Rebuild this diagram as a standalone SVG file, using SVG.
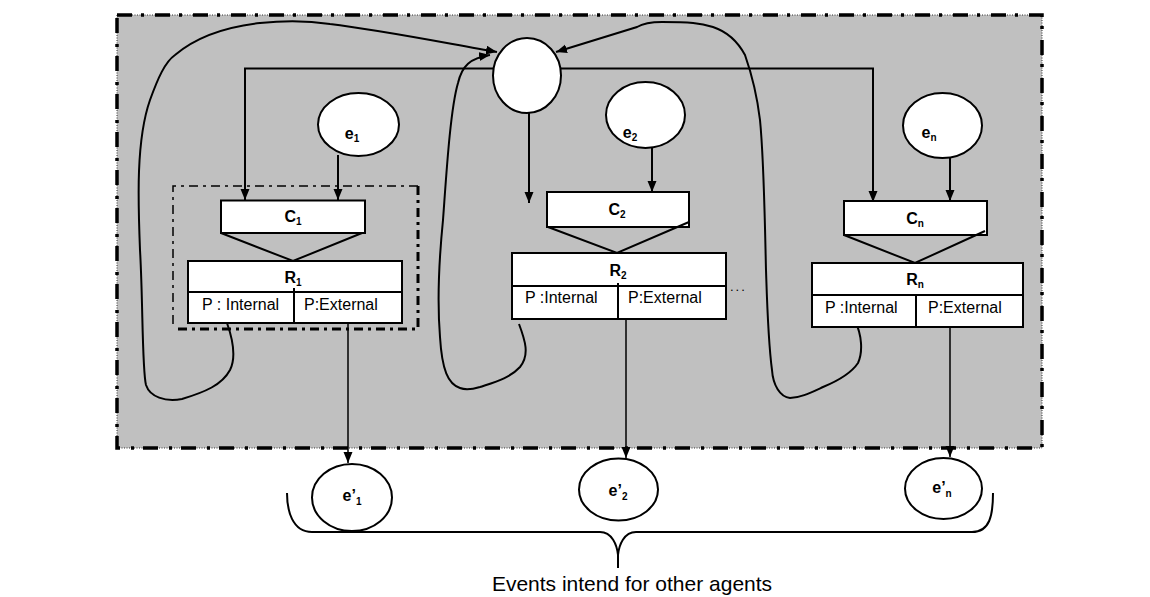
<svg xmlns="http://www.w3.org/2000/svg" width="1150" height="597" viewBox="0 0 1150 597">
<defs>
<marker id="ah" markerUnits="userSpaceOnUse" markerWidth="12" markerHeight="10" refX="11" refY="4.5" orient="auto">
<path d="M0,0 L11,4.5 L0,9 z" fill="#000"/>
</marker>
<style>
.ln{fill:none;stroke:#000;stroke-width:2}
.thin{fill:none;stroke:#000;stroke-width:1.5}
.box{fill:#fff;stroke:#000;stroke-width:2}
.lbl{font-family:"Liberation Sans",Arial,sans-serif;font-weight:bold;font-size:16px;fill:#000;text-anchor:middle}
.sub{font-size:10px}
.p{font-family:"Liberation Sans",Arial,sans-serif;font-size:16px;fill:#000}
</style>
</defs>
<rect width="1150" height="597" fill="#fff"/>
<g id="system">
<rect x="117" y="15" width="925" height="433" fill="#c0c0c0"/>
<rect x="117" y="15" width="925" height="433" fill="none" stroke="#333" stroke-width="1" stroke-dasharray="1,1.5"/>
<rect x="117" y="15" width="925" height="433" fill="none" stroke="#000" stroke-width="3.5" stroke-dasharray="15,9,3,11"/>
</g>
<g id="agent1-frame">
<path d="M418,186 H173 V329" fill="none" stroke="#000" stroke-width="1.5" stroke-dasharray="9,5,3,5"/>
<path d="M418,186 V329 H173" fill="none" stroke="#000" stroke-width="3" stroke-dasharray="9,5,3,5"/>
</g>
<g id="hub"><ellipse cx="527" cy="75.5" rx="34" ry="37.5" class="box"/></g>
<g id="connectors">
<path class="ln" d="M493,68.5 H245 V200" marker-end="url(#ah)"/>
<path class="ln" d="M561,68.5 H873 V202" marker-end="url(#ah)"/>
<path class="ln" d="M529,113 V203" marker-end="url(#ah)"/>
<path class="ln" d="M338,155 V200" marker-end="url(#ah)"/>
<path class="ln" d="M652,148 V192" marker-end="url(#ah)"/>
<path class="ln" d="M950,158 V201" marker-end="url(#ah)"/>
<path class="thin" d="M348,323 V463" marker-end="url(#ah)"/>
<path class="thin" d="M626,319 V458" marker-end="url(#ah)"/>
<path class="thin" d="M950,322 V457" marker-end="url(#ah)"/>
<path class="ln" d="M227,323 C233,340 236,358 230,370 C222,385 205,392 182,399 C165,402 150,397 146,385 C142,370 143,300 140,250 C138,200 136,140 150,100 C158,78 165,62 175,55 C195,38 225,27 260,23 C290,20 310,21 330,24 C380,30 440,42 497,52" marker-end="url(#ah)"/>
<path class="ln" d="M519,324 C525,340 530,355 520,367 C510,378 495,382 480,387 C470,390 465,390 460,388 C448,384 442,370 440,337 C437,300 440,250 443,220 C446,180 450,110 458,83 C462,66 470,58 490,55" marker-end="url(#ah)"/>
<path class="ln" d="M855,321 C862,335 863,352 858,363 C852,372 840,380 823,387 C810,393 800,398 790,398 C780,397 773,385 772,370 C768,340 767,300 766,270 C765,230 764,160 760,120 C757,95 752,75 745,55 C738,42 728,32 713,27 C700,23 690,22 662,22 C650,22 642,24 637,27 L556,52" marker-end="url(#ah)"/>
</g>
<g id="e1"><ellipse cx="358.5" cy="124.5" rx="40.5" ry="31.5" class="box"/><text x="352" y="139" class="lbl">e<tspan class="sub" dy="3">1</tspan></text></g>
<g id="e2"><ellipse cx="645.5" cy="115" rx="39.5" ry="33" class="box"/><text x="630" y="138" class="lbl">e<tspan class="sub" dy="3">2</tspan></text></g>
<g id="en"><ellipse cx="942.5" cy="125.5" rx="39.5" ry="32.5" class="box"/><text x="929" y="138" class="lbl">e<tspan class="sub" dy="3">n</tspan></text></g>
<g id="C1">
<rect x="221" y="200.5" width="144" height="32.5" class="box"/>
<text x="293" y="222" class="lbl">C<tspan class="sub" dy="3">1</tspan></text>
<path class="ln" d="M221,233 L293,261 L362,233"/>
</g>
<g id="R1">
<rect x="188" y="261" width="214" height="62" class="box"/>
<line x1="188" y1="292" x2="402" y2="292" stroke="#000" stroke-width="2"/>
<line x1="294" y1="288" x2="294" y2="323" stroke="#000" stroke-width="2"/>
<text x="293" y="283" class="lbl">R<tspan class="sub" dy="3">1</tspan></text>
<text x="202" y="310" class="p">P : Internal</text>
<text x="304" y="310" class="p">P:External</text>
</g>
<g id="C2">
<rect x="547" y="192" width="142" height="35" class="box"/>
<text x="617" y="215" class="lbl">C<tspan class="sub" dy="3">2</tspan></text>
<path class="ln" d="M548,227 L617,253 L689,222"/>
</g>
<g id="R2">
<rect x="512" y="253" width="214" height="66" class="box"/>
<line x1="512" y1="286" x2="726" y2="286" stroke="#000" stroke-width="2"/>
<line x1="618" y1="283" x2="618" y2="319" stroke="#000" stroke-width="2"/>
<text x="618" y="276" class="lbl">R<tspan class="sub" dy="3">2</tspan></text>
<text x="525" y="303" class="p">P :Internal</text>
<text x="628" y="303" class="p">P:External</text>
<text x="730" y="291" font-family="Liberation Sans, Arial, sans-serif" font-size="13" letter-spacing="2">...</text>
</g>
<g id="Cn">
<rect x="844" y="201" width="143" height="34" class="box"/>
<text x="915" y="224" class="lbl">C<tspan class="sub" dy="3">n</tspan></text>
<path class="ln" d="M844,235 L915,263 L985,231"/>
</g>
<g id="Rn">
<rect x="812" y="263" width="211" height="64" class="box"/>
<line x1="812" y1="295" x2="1023" y2="295" stroke="#000" stroke-width="2"/>
<line x1="916" y1="295" x2="916" y2="327" stroke="#000" stroke-width="2"/>
<text x="915" y="285" class="lbl">R<tspan class="sub" dy="3">n</tspan></text>
<text x="825" y="313" class="p">P :Internal</text>
<text x="928" y="313" class="p">P:External</text>
</g>
<g id="e1out"><ellipse cx="352" cy="497.5" rx="40" ry="33.5" class="box"/><text x="352" y="501" class="lbl">e’<tspan class="sub" dy="4">1</tspan></text></g>
<g id="e2out"><ellipse cx="618.5" cy="489.5" rx="39.5" ry="31" class="box"/><text x="618" y="496" class="lbl">e’<tspan class="sub" dy="4">2</tspan></text></g>
<g id="enout"><ellipse cx="943.5" cy="488.5" rx="38.5" ry="30.5" class="box"/><text x="942" y="493" class="lbl">e’<tspan class="sub" dy="4">n</tspan></text></g>
<g id="brace">
<path class="ln" d="M287,493 C287,510 292,532 312,532 H600 C612,532 617,545 618,555 C619,545 624,532 636,532 H972 C990,532 993,515 993,493"/>
<line x1="618" y1="555" x2="618" y2="568" stroke="#000" stroke-width="2"/>
<text x="632" y="591" font-family="Liberation Sans, Arial, sans-serif" font-size="21" text-anchor="middle">Events intend for other agents</text>
</g>
</svg>
